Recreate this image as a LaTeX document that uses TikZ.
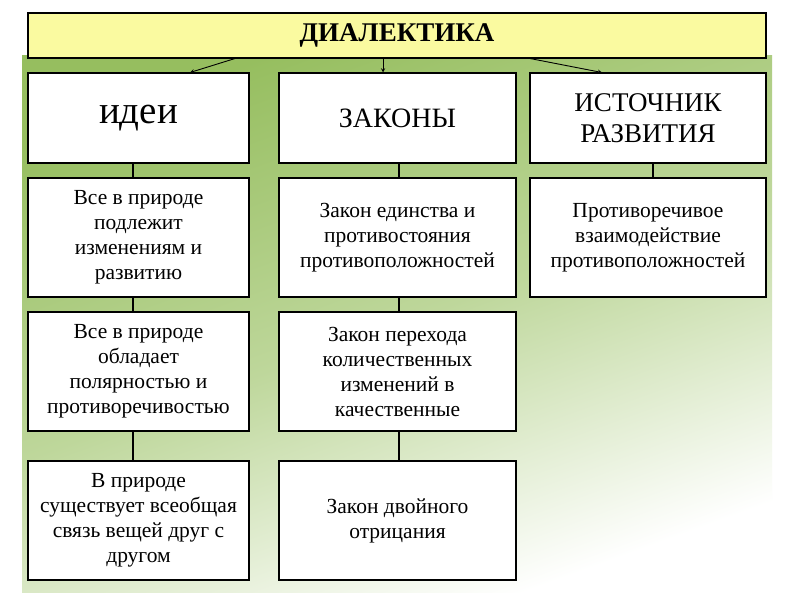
\documentclass[tikz,border=0pt]{standalone}
\usepackage{fontspec}
\setmainfont{Liberation Serif}
\begin{document}
\begin{tikzpicture}[x=1pt,y=-1pt,
  box/.style={draw=black,line width=2pt,fill=white,minimum width=#1,align=center,inner sep=1pt},
  txt/.style={font=\fontsize{21.5}{25}\selectfont},
  conn/.style={line width=1.6pt},
  arr/.style={line width=0.9pt,-stealth}]
\useasboundingbox (0,0) rectangle (794,595);
\fill[white] (0,0) rectangle (794,595);
\shade[top color={rgb,255:red,150;green,190;blue,95}, bottom color=white, middle color={rgb,255:red,190;green,215;blue,155}, shading angle=20] (22,55) rectangle (772,592);
\node[box=738pt,minimum height=45pt,fill={rgb,255:red,250;green,250;blue,160},font=\bfseries\fontsize{27}{30}\selectfont] (top) at (397,35.5) {ДИАЛЕКТИКА};
\node[box=221pt,minimum height=90pt,font=\fontsize{39}{42}\selectfont] (a1) at (138.5,118) {идеи};
\node[box=237pt,minimum height=90pt,font=\fontsize{28}{30}\selectfont] (b1) at (397.5,118) {ЗАКОНЫ};
\node[box=236pt,minimum height=90pt,font=\fontsize{27}{31}\selectfont] (c1) at (648,118) {ИСТОЧНИК\\РАЗВИТИЯ};
\node[box=221pt,minimum height=119pt,txt] (a2) at (138.5,237.5) {Все в природе\\подлежит\\изменениям и\\развитию};
\node[box=237pt,minimum height=119pt,txt] (b2) at (397.5,237.5) {Закон единства и\\противостояния\\противоположностей};
\node[box=236pt,minimum height=119pt,txt] (c2) at (648,237.5) {Противоречивое\\взаимодействие\\противоположностей};
\node[box=221pt,minimum height=119pt,txt] (a3) at (138.5,371.5) {Все в природе\\обладает\\полярностью и\\противоречивостью};
\node[box=237pt,minimum height=119pt,txt] (b3) at (397.5,371.5) {Закон перехода\\количественных\\изменений в\\качественные};
\node[box=221pt,minimum height=119pt,txt] (a4) at (138.5,520.5) {В природе\\существует всеобщая\\связь вещей друг с\\другом};
\node[box=237pt,minimum height=119pt,txt] (b4) at (397.5,520.5) {Закон двойного\\отрицания};
\draw[arr] (235,58.5) -- (190,72.5);
\draw[arr] (383,58.5) -- (383,72.5);
\draw[arr] (530,58.5) -- (602,72.5);
\foreach \u/\v/\x in {a1/a2/133,a2/a3/133,a3/a4/133,b1/b2/399,b2/b3/399,b3/b4/399,c1/c2/653}
  \draw[conn] (\u.south -| \x,0) -- (\v.north -| \x,0);
\end{tikzpicture}
\end{document}
